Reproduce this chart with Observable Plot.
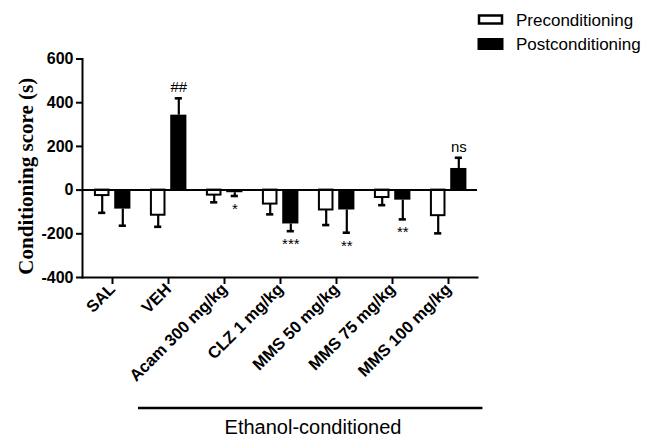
<!DOCTYPE html>
<html><head><meta charset="utf-8">
<script src="https://cdn.jsdelivr.net/npm/d3@7"></script>
<script src="https://cdn.jsdelivr.net/npm/@observablehq/plot@0.6"></script>
<style>
body{margin:0;background:#fff;}
#wrap{position:relative;width:660px;height:437px;overflow:hidden;}
</style></head><body><div id="wrap"></div>
<script>
const groups = ["SAL","VEH","Acam 300 mg/kg","CLZ 1 mg/kg","MMS 50 mg/kg","MMS 75 mg/kg","MMS 100 mg/kg"];
const preMean = [-25,-115,-23,-64,-91,-34,-117];
const preSem = [79,53,33,47,69,35,81];
const postMean = [-87,343,-12,-155,-91,-46,99];
const postSem = [76,77,15,33,104,88,49];
const postMarks = ["","##","*","***","**","**","ns"];
const yTicks = [-400,-200,0,200,400,600];
const seriesNames = ["Preconditioning","Postconditioning"];
const groupLabel = "Ethanol-conditioned";
const yTitle = "Conditioning score (s)";

const pre = groups.map((g,i)=>({g, v:preMean[i], e:preMean[i] + Math.sign(preMean[i]||-1)*preSem[i]}));
const post = groups.map((g,i)=>({g, v:postMean[i], e:postMean[i] + Math.sign(postMean[i]||-1)*postSem[i], m:postMarks[i]}));

const W=660,H=437, mL=82, mR=183, mT=58.5, mB=160;
const bw = (W-mL-mR)/groups.length;
const off = 10.3;
const sans = "Liberation Sans, Arial, Helvetica, sans-serif";

const chart = Plot.plot({
  width:W, height:H, marginLeft:mL, marginRight:mR, marginTop:mT, marginBottom:mB,
  style:{fontFamily:sans, background:"white", color:"black"},
  x:{type:"band", domain:groups, padding:0},
  y:{domain:[-400,600]},
  marks:[
    Plot.barY(pre,{x:"g", y:"v", fill:"white", stroke:"black", strokeWidth:2, insetLeft:bw/2-17.3, insetRight:bw/2+3.3}),
    Plot.barY(post,{x:"g", y:"v", fill:"black", insetLeft:bw/2+2, insetRight:bw/2-18.6}),
    Plot.ruleX(pre,{x:"g", y1:"v", y2:"e", dx:-off, strokeWidth:2.2}),
    Plot.ruleX(post,{x:"g", y1:"v", y2:"e", dx:off, strokeWidth:2.2}),
    Plot.tickY(pre,{x:"g", y:"e", insetLeft:bw/2-off-3.8, insetRight:bw/2+off-3.8, strokeWidth:2.6}),
    Plot.tickY(post,{x:"g", y:"e", insetLeft:bw/2+off-3.8, insetRight:bw/2-off-3.8, strokeWidth:2.6}),
    Plot.ruleY([0],{strokeWidth:2}),
    Plot.text(post.filter(d=>d.m && d.v>0),{x:"g", y:"e", text:"m", dx:off, dy:-11, fontSize:15, lineAnchor:"middle"}),
    Plot.text(post.filter(d=>d.m && d.v<0),{x:"g", y:"e", text:"m", dx:off, dy:13, fontSize:15, lineAnchor:"middle"}),
    Plot.frame({anchor:"left", strokeWidth:2}),
    Plot.frame({anchor:"bottom", strokeWidth:2}),
    Plot.axisY({ticks:yTicks, tickFormat:d=>String(d), tickSize:6, tickPadding:3, strokeWidth:2, fontSize:16, fontWeight:"bold", label:null}),
    Plot.axisX({tickSize:7, tickPadding:2, tickRotate:-45, strokeWidth:2, fontSize:16.5, fontWeight:"bold", label:null}),
    Plot.text([yTitle],{frameAnchor:"left", text:d=>d, rotate:-90, dx:-50, dy:8, lineAnchor:"bottom", textAnchor:"middle", fontFamily:"Liberation Serif, Times New Roman, serif", fontWeight:"bold", fontSize:21})
  ]
});
document.getElementById("wrap").appendChild(chart);

// extra annotations in the margins (bracket line, group label, legend)
const svg = d3.select(chart);
const xs = chart.scale("x");
const x0 = xs.apply(groups[1]) - 2;
const x1 = xs.apply(groups[groups.length-1]) + bw + 6;
svg.append("line").attr("x1",x0).attr("x2",x1).attr("y1",408).attr("y2",408).attr("stroke","black").attr("stroke-width",2.5);
svg.append("text").attr("x",313).attr("y",434).attr("text-anchor","middle")
  .attr("font-family",sans).attr("font-size",20).attr("fill","black").text(groupLabel);
const lg = svg.append("g").attr("text-anchor","start");
lg.append("rect").attr("x",479).attr("y",15.5).attr("width",23).attr("height",8).attr("fill","white").attr("stroke","black").attr("stroke-width",2.5);
lg.append("rect").attr("x",477.5).attr("y",38).attr("width",26).attr("height",12).attr("fill","black");
lg.append("text").attr("x",516).attr("y",25.5).attr("text-anchor","start").style("font-family",sans).style("font-size","17px").attr("fill","black").text(seriesNames[0]);
lg.append("text").attr("x",516).attr("y",50).attr("text-anchor","start").style("font-family",sans).style("font-size","17px").attr("fill","black").text(seriesNames[1]);
</script></body></html>
